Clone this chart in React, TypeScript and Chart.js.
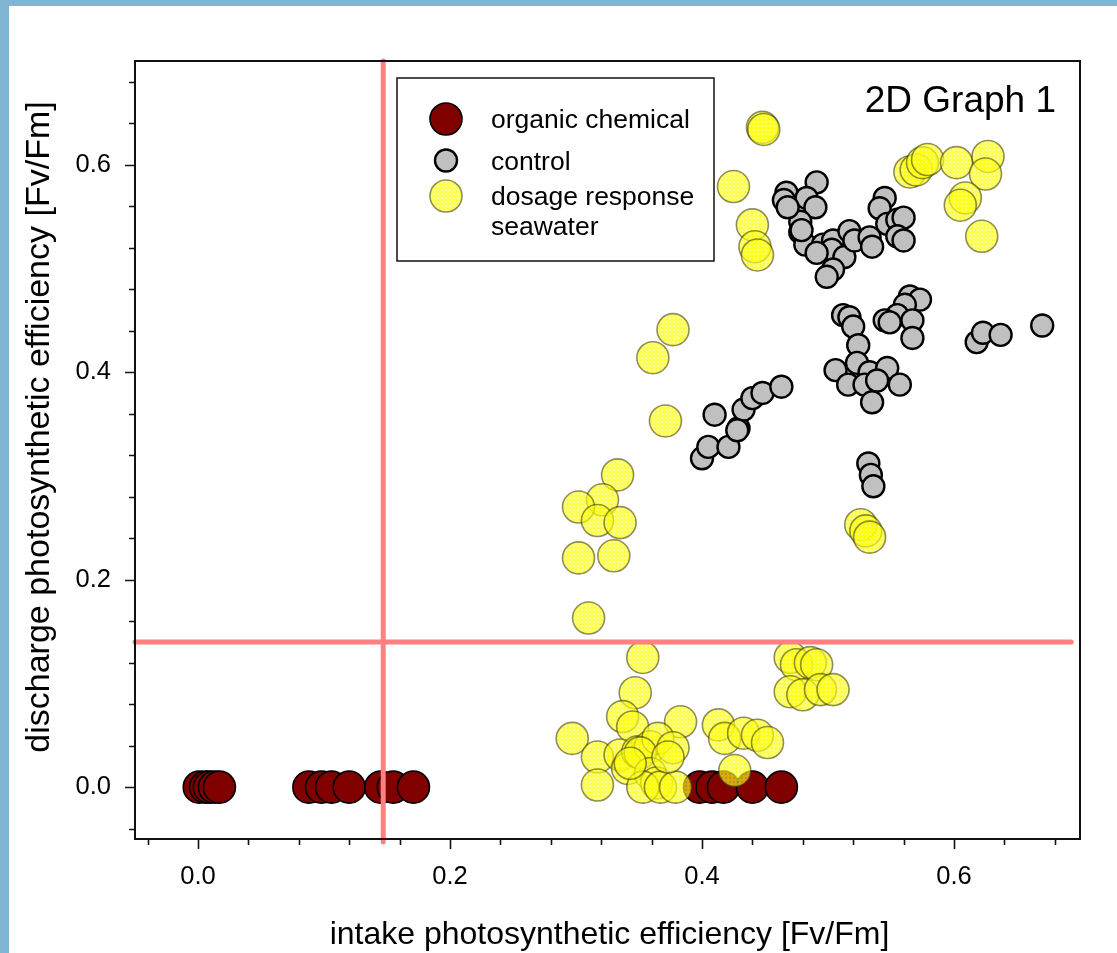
import React, { useEffect, useRef } from 'react';
import { Chart, registerables } from 'chart.js';

Chart.register(...registerables);

// ---------- data ----------
const organicX = [0.001, 0.006, 0.009, 0.013, 0.017, 0.088, 0.098, 0.106, 0.120, 0.145, 0.155, 0.171, 0.398, 0.408, 0.417, 0.440, 0.463];
const organicY = [0, 0, 0, 0, 0, 0, 0, 0, 0, 0, 0, 0, 0, 0, 0, 0, 0];

const controlX = [
  0.491, 0.467, 0.465, 0.483, 0.490, 0.478, 0.478, 0.482, 0.496, 0.504, 0.503, 0.513, 0.504, 0.499,
  0.517, 0.521, 0.533, 0.535, 0.545, 0.541, 0.547, 0.555, 0.560, 0.555, 0.560, 0.468, 0.491, 0.479,
  0.512, 0.517, 0.520, 0.524, 0.506, 0.523, 0.533, 0.547, 0.516, 0.529, 0.539, 0.557, 0.535,
  0.565, 0.573, 0.561, 0.555, 0.545, 0.567, 0.567, 0.549,
  0.618, 0.623, 0.637, 0.670,
  0.532, 0.534, 0.536,
  0.400, 0.405, 0.410, 0.421, 0.429, 0.433, 0.440, 0.448, 0.463, 0.428,
];
const controlY = [
  0.583, 0.573, 0.566, 0.568, 0.559, 0.545, 0.535, 0.523, 0.523, 0.527, 0.518, 0.511, 0.499, 0.492,
  0.536, 0.527, 0.530, 0.521, 0.568, 0.558, 0.543, 0.547, 0.549, 0.531, 0.527, 0.559, 0.515, 0.537,
  0.455, 0.453, 0.444, 0.426, 0.402, 0.409, 0.400, 0.404, 0.388, 0.388, 0.392, 0.388, 0.371,
  0.473, 0.470, 0.465, 0.455, 0.450, 0.450, 0.433, 0.448,
  0.429, 0.438, 0.436, 0.445,
  0.312, 0.301, 0.290,
  0.317, 0.328, 0.359, 0.328, 0.346, 0.364, 0.375, 0.380, 0.386, 0.344,
];

const dosageX = [
  0.448, 0.449, 0.425, 0.440, 0.442, 0.444,
  0.565, 0.570, 0.575, 0.579, 0.602, 0.627, 0.625, 0.609, 0.605, 0.622,
  0.377, 0.361, 0.371, 0.333, 0.321, 0.302, 0.317, 0.335, 0.302, 0.330, 0.310,
  0.526, 0.530, 0.533,
  0.353, 0.347, 0.337, 0.345, 0.383, 0.297, 0.317, 0.317, 0.335, 0.341, 0.349, 0.359, 0.365,
  0.377, 0.351, 0.359, 0.364, 0.353, 0.367, 0.379, 0.373, 0.343,
  0.413, 0.418, 0.433, 0.444, 0.452, 0.426,
  0.470, 0.475, 0.486, 0.491, 0.470, 0.480, 0.494, 0.504,
];
const dosageY = [
  0.636, 0.634, 0.579, 0.542, 0.521, 0.513,
  0.593, 0.595, 0.602, 0.605, 0.602, 0.608, 0.591, 0.568, 0.561, 0.531,
  0.441, 0.414, 0.353, 0.301, 0.277, 0.270, 0.257, 0.255, 0.221, 0.223, 0.163,
  0.253, 0.247, 0.241,
  0.125, 0.091, 0.068, 0.058, 0.063, 0.047, 0.029, 0.002, 0.031, 0.018, 0.034, 0.039, 0.047,
  0.038, 0.033, 0.013, 0.004, 0.000, 0.000, 0.000, 0.029, 0.023,
  0.060, 0.047, 0.052, 0.050, 0.043, 0.016,
  0.125, 0.118, 0.120, 0.118, 0.092, 0.089, 0.094, 0.094,
];

const thresholdX = 0.147;
const thresholdY = 0.14;
const hLineSpan = [-0.05, 0.693];
const vLineSpan = [-0.053, 0.70];

const axisMin = -0.05;
const axisMax = 0.70;
const majorTicks = [0, 0.2, 0.4, 0.6];
const minorTicks = [-0.04, 0.04, 0.08, 0.12, 0.16, 0.24, 0.28, 0.32, 0.36, 0.44, 0.48, 0.52, 0.56, 0.64, 0.68];

const legendLabels = ['organic chemical', 'control', 'dosage response\nseawater'];
const chartTitle = '2D Graph 1';
const xTitle = 'intake photosynthetic efficiency [Fv/Fm]';
const yTitle = 'discharge photosynthetic efficiency [Fv/Fm]';

const FONT = '"Liberation Sans", Arial, Helvetica, sans-serif';

function zip(xs: number[], ys: number[]) {
  return xs.map((x, i) => ({ x, y: ys[i] }));
}

function makeYellowPattern(): CanvasPattern | string {
  const c = document.createElement('canvas');
  c.width = 4;
  c.height = 4;
  const g = c.getContext('2d');
  if (!g) return 'rgba(255,255,0,0.62)';
  g.fillStyle = 'rgba(255,255,0,0.68)';
  g.fillRect(0, 0, 4, 4);
  g.clearRect(1, 1, 2, 2);
  g.fillStyle = 'rgba(255,255,90,0.55)';
  g.fillRect(1, 1, 2, 2);
  const p = g.createPattern(c, 'repeat');
  return p || 'rgba(255,255,0,0.62)';
}

const decorPlugin = {
  id: 'decor',
  afterDraw(chart: any) {
    const { ctx, chartArea } = chart;
    const xs = chart.scales.x;
    const ys = chart.scales.y;
    const { left, right, top, bottom } = chartArea;
    ctx.save();
    // frame
    ctx.strokeStyle = '#111';
    ctx.lineWidth = 2;
    ctx.strokeRect(left, top, right - left, bottom - top);
    // ticks
    ctx.lineWidth = 1.6;
    ctx.beginPath();
    majorTicks.forEach((v) => {
      const px = Math.round(xs.getPixelForValue(v)) + 0.5;
      ctx.moveTo(px, bottom);
      ctx.lineTo(px, bottom + 10);
      const py = Math.round(ys.getPixelForValue(v)) + 0.5;
      ctx.moveTo(left, py);
      ctx.lineTo(left - 10, py);
    });
    minorTicks.forEach((v) => {
      const px = Math.round(xs.getPixelForValue(v)) + 0.5;
      ctx.moveTo(px, bottom);
      ctx.lineTo(px, bottom + 6);
      const py = Math.round(ys.getPixelForValue(v)) + 0.5;
      ctx.moveTo(left, py);
      ctx.lineTo(left - 6, py);
    });
    ctx.stroke();

    // axis titles
    ctx.fillStyle = '#000';
    ctx.font = `32px ${FONT}`;
    ctx.textAlign = 'center';
    ctx.textBaseline = 'alphabetic';
    ctx.fillText(xTitle, (left + right) / 2 + 2, 944);
    ctx.save();
    ctx.translate(49, 427);
    ctx.rotate(-Math.PI / 2);
    ctx.font = `34px ${FONT}`;
    ctx.fillText(yTitle, 0, 0);
    ctx.restore();

    // title
    ctx.font = `37px ${FONT}`;
    ctx.textAlign = 'right';
    ctx.fillText(chartTitle, right - 24, 112);

    // legend
    const bx = left + 262;
    const by = top + 17;
    const bw = 317;
    const bh = 183;
    ctx.fillStyle = '#fff';
    ctx.fillRect(bx, by, bw, bh);
    ctx.strokeStyle = '#111';
    ctx.lineWidth = 1.5;
    ctx.strokeRect(bx, by, bw, bh);
    const markerY = [by + 41, by + 82.5, by + 118];
    const baseY = [by + 50, by + 92, by + 127];
    const ds = chart.data.datasets.filter((d: any) => d.isSeries);
    ds.forEach((d: any, i: number) => {
      ctx.beginPath();
      ctx.arc(bx + 49, markerY[i], d.pointRadius, 0, Math.PI * 2);
      ctx.fillStyle = d.backgroundColor;
      ctx.fill();
      ctx.lineWidth = d.borderWidth;
      ctx.strokeStyle = d.borderColor;
      ctx.stroke();
      ctx.fillStyle = '#000';
      ctx.font = `26.5px ${FONT}`;
      ctx.textAlign = 'left';
      const lines = legendLabels[i].split('\n');
      lines.forEach((ln, j) => {
        ctx.fillText(ln, bx + 94, baseY[i] + j * 30);
      });
    });
    ctx.restore();
  },
};

export default function App() {
  const ref = useRef<HTMLCanvasElement | null>(null);
  useEffect(() => {
    if (!ref.current) return;
    const yellowFill = makeYellowPattern();
    const tickFont = { family: FONT, size: 25.5 };
    const chart = new Chart(ref.current, {
      type: 'scatter',
      data: {
        datasets: [
          {
            label: 'hline',
            data: [
              { x: hLineSpan[0], y: thresholdY },
              { x: hLineSpan[1], y: thresholdY },
            ],
            showLine: true,
            borderColor: '#ff8080',
            borderWidth: 5,
            borderCapStyle: 'round',
            pointRadius: 0,
            clip: false,
            order: 0,
          } as any,
          {
            label: 'vline',
            data: [
              { x: thresholdX, y: vLineSpan[0] },
              { x: thresholdX, y: vLineSpan[1] },
            ],
            showLine: true,
            borderColor: '#ff8080',
            borderWidth: 5,
            borderCapStyle: 'round',
            pointRadius: 0,
            clip: false,
            order: 0,
          } as any,
          {
            label: legendLabels[0],
            isSeries: true,
            data: zip(organicX, organicY),
            pointRadius: 16,
            pointHoverRadius: 16,
            backgroundColor: '#800000',
            borderColor: '#000',
            borderWidth: 1.6,
            order: 3,
          } as any,
          {
            label: legendLabels[1],
            isSeries: true,
            data: zip(controlX, controlY),
            pointRadius: 11,
            pointHoverRadius: 11,
            backgroundColor: '#c0c0c0',
            borderColor: '#000',
            borderWidth: 2.4,
            order: 2,
          } as any,
          {
            label: legendLabels[2],
            isSeries: true,
            data: zip(dosageX, dosageY),
            pointRadius: 16,
            pointHoverRadius: 16,
            backgroundColor: yellowFill,
            borderColor: 'rgba(50,50,0,0.55)',
            borderWidth: 1.6,
            order: 1,
          } as any,
        ],
      },
      options: {
        animation: false,
        responsive: false,
        events: [],
        layout: { padding: { left: 0, top: 61, right: 37, bottom: 0 } },
        plugins: {
          legend: { display: false },
          tooltip: { enabled: false },
          title: { display: false },
        },
        scales: {
          x: {
            type: 'linear',
            min: axisMin,
            max: axisMax,
            grid: { display: false, drawTicks: false },
            border: { display: false },
            afterBuildTicks: (s: any) => {
              s.ticks = majorTicks.map((v) => ({ value: v }));
            },
            afterFit: (s: any) => {
              s.height = 114;
            },
            ticks: {
              padding: 23,
              font: tickFont,
              color: '#000',
              maxRotation: 0,
              autoSkip: false,
              callback: (v: any) => Number(v).toFixed(1),
            },
          },
          y: {
            type: 'linear',
            min: axisMin,
            max: axisMax,
            grid: { display: false, drawTicks: false },
            border: { display: false },
            afterBuildTicks: (s: any) => {
              s.ticks = majorTicks.map((v) => ({ value: v }));
            },
            afterFit: (s: any) => {
              s.width = 135;
            },
            ticks: {
              padding: 24,
              font: tickFont,
              color: '#000',
              autoSkip: false,
              callback: (v: any) => Number(v).toFixed(1),
            },
          },
        },
      } as any,
      plugins: [decorPlugin],
    });
    return () => chart.destroy();
  }, []);

  return (
    <div style={{ position: 'fixed', left: 0, top: 0, width: 1117, height: 953, background: '#fff', overflow: 'hidden' }}>
      <div style={{ position: 'absolute', left: 0, top: 0, width: 1117, height: 6, background: '#82b5d4' }} />
      <div style={{ position: 'absolute', left: 0, top: 0, width: 9, height: 953, background: '#82b5d4' }} />
      <canvas ref={ref} width={1117} height={953} style={{ position: 'absolute', left: 0, top: 0, width: 1117, height: 953 }} />
    </div>
  );
}
